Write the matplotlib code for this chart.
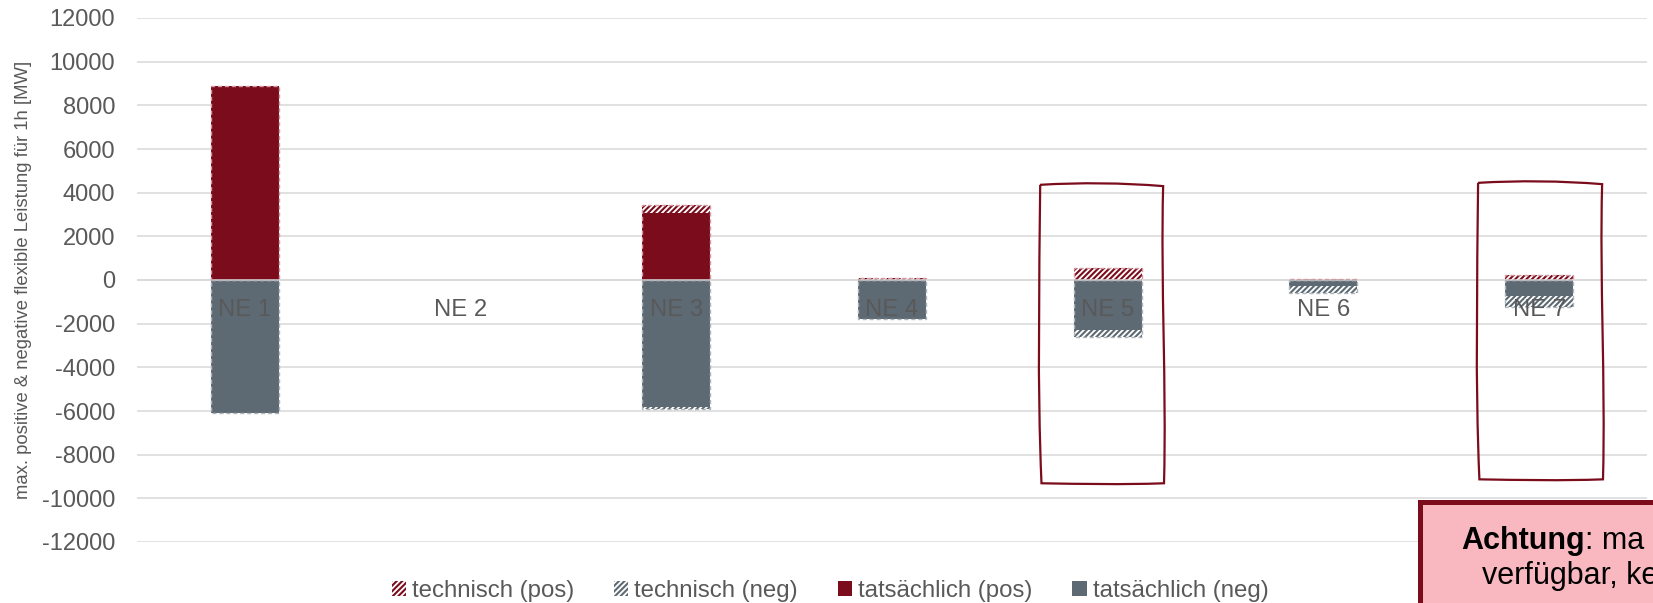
import matplotlib
matplotlib.use("Agg")
import matplotlib.pyplot as plt
import matplotlib.patches as mpatches
from matplotlib.path import Path
from matplotlib.transforms import offset_copy
import numpy as np

# ---- data -------------------------------------------------------------
categories = ["NE 1", "NE 2", "NE 3", "NE 4", "NE 5", "NE 6", "NE 7"]
tech_pos = [8900, 0, 3450, 80, 560, 30, 215]
tech_neg = [-6100, 0, -5900, -1800, -2600, -610, -1220]
act_pos = [8880, 0, 3050, 0, 0, 0, 0]
act_neg = [-6100, 0, -5800, -1800, -2300, -260, -730]
legend_labels = ["technisch (pos)", "technisch (neg)",
                 "tatsächlich (pos)", "tatsächlich (neg)"]
y_ticks = list(range(-12000, 12001, 2000))
y_label = "max. positive & negative flexible Leistung für 1h [MW]"
highlighted = ["NE 5", "NE 7"]
note_bold = "Achtung"
note_rest = ": ma"
note_line2 = "verfügbar, ke"

# ---- style ------------------------------------------------------------
RED = "#7a0c1c"
GRAY = "#5e6a73"
RED_EDGE = "#d49aa3"
GRAY_EDGE = "#aeb6bc"
GRID = "#d9d9d9"
TEXT = "#595959"
NOTE_FILL = "#f9b8c0"
HATCH = "//////"

plt.rcParams["font.family"] = ["Liberation Sans", "DejaVu Sans"]
plt.rcParams["hatch.linewidth"] = 1.5

W, H = 1653, 603
fig = plt.figure(figsize=(W / 100, H / 100), dpi=100)
ax = fig.add_axes([137 / W, 1 - 542 / H, (1647 - 137) / W, (542 - 18) / H])

x = np.arange(len(categories))
bw = 0.315

# technical potential: hatched bars behind the actual values
ax.bar(x, tech_pos, bw, color="white", edgecolor=RED, hatch=HATCH,
       linewidth=0, zorder=2)
ax.bar(x, tech_neg, bw, color="white", edgecolor=GRAY, hatch=HATCH,
       linewidth=0, zorder=2)
# actual flexible power
ax.bar(x, act_pos, bw, color=RED, linewidth=0, zorder=3)
ax.bar(x, act_neg, bw, color=GRAY, linewidth=0, zorder=3)

# dashed outlines of the technical bars
for vals, ec in ((tech_pos, RED_EDGE), (tech_neg, GRAY_EDGE)):
    idx = [i for i, v in enumerate(vals) if v != 0]
    ax.bar(x[idx], [vals[i] for i in idx], bw, fill=False, edgecolor=ec,
           linestyle=(0, (3, 2)), linewidth=1.0, zorder=4)

ax.axhline(0, color=GRID, lw=1.1, zorder=3.5)

ax.set_xlim(-0.5, len(categories) - 0.5)
ax.set_ylim(-12000, 12000)
ax.set_yticks(y_ticks)
ax.set_yticklabels([str(t) for t in y_ticks])
ax.tick_params(axis="y", length=0, pad=15.8, labelsize=17, labelcolor=TEXT)
ax.set_xticks([])
ax.yaxis.grid(True, color=GRID, lw=1.1)
ax.set_axisbelow(True)
for s in ax.spines.values():
    s.set_visible(False)

# category labels sit just below the zero line, above the bars
lab_tr = offset_copy(ax.transData, fig=fig, y=-30, units="dots")
for i, c in enumerate(categories):
    ax.text(i, 0, c, transform=lab_tr, ha="center", va="center",
            fontsize=17.2, color=TEXT, zorder=6)

fig.text(24 / W, 1 - 280 / H, y_label, rotation=90, ha="center",
         va="center", fontsize=13.3, color=TEXT)

# hand-drawn frames around highlighted categories
frames = {"NE 5": (-0.313, 0.257, 4360, -9310),
          "NE 7": (-0.283, 0.292, 4450, -9130)}


def sketch_frame(xc, l, r, t, b):
    x0, x1 = xc + l, xc + r
    tl, tr, br, bl = (x0, t), (x1, t - 60), (x1 + 0.004, b), (x0 + 0.006, b)
    verts = [tl,
             (x0 + (x1 - x0) / 3, t + 110), (x0 + 2 * (x1 - x0) / 3, t + 90), tr,
             (x1 - 0.012, t - (t - b) / 3), (x1 + 0.016, t - 2 * (t - b) / 3), br,
             (x1 - (x1 - x0) / 3, b - 70), (x0 + (x1 - x0) / 3, b - 30), bl,
             (x0 - 0.014, b + (t - b) / 3), (x0 - 0.004, b + 2 * (t - b) / 3), tl]
    codes = [Path.MOVETO] + [Path.CURVE4] * 12
    return mpatches.PathPatch(Path(verts, codes), fill=False, edgecolor=RED,
                              lw=1.6, zorder=7, clip_on=False)


for name in highlighted:
    i = categories.index(name)
    ax.add_patch(sketch_frame(i, *frames[name]))

# legend
handles = [
    mpatches.Patch(facecolor="white", edgecolor=RED, hatch=HATCH, linewidth=0),
    mpatches.Patch(facecolor="white", edgecolor=GRAY, hatch=HATCH, linewidth=0),
    mpatches.Patch(facecolor=RED, linewidth=0),
    mpatches.Patch(facecolor=GRAY, linewidth=0),
]
fig.legend(handles, legend_labels, loc="center",
           bbox_to_anchor=(830 / W, 1 - 591 / H), ncol=4, frameon=False,
           fontsize=17.3, handlelength=0.6, handleheight=0.55,
           handletextpad=0.25, columnspacing=1.65, labelcolor=TEXT,
           borderpad=0, borderaxespad=0)

# note box in the lower right corner
note = mpatches.Rectangle((1419.8 / W, -0.3), 0.5, 0.3 + 1 - 501.8 / H,
                          transform=fig.transFigure, facecolor=NOTE_FILL,
                          edgecolor=RED, lw=3.6, zorder=10)
fig.add_artist(note)
t1 = fig.text(1461.7 / W, 1 - 549.3 / H, note_bold, fontsize=22,
              weight="bold", va="baseline", ha="left", color="black",
              zorder=11)
fig.canvas.draw()
bb = t1.get_window_extent()
fig.text(bb.x1 / fig.bbox.width, 1 - 549.3 / H, note_rest, fontsize=22,
         va="baseline", ha="left", color="black", zorder=11)
fig.text(1481.7 / W, 1 - 584.3 / H, note_line2, fontsize=22,
         va="baseline", ha="left", color="black", zorder=11)

fig.savefig("out.png", dpi=100)
